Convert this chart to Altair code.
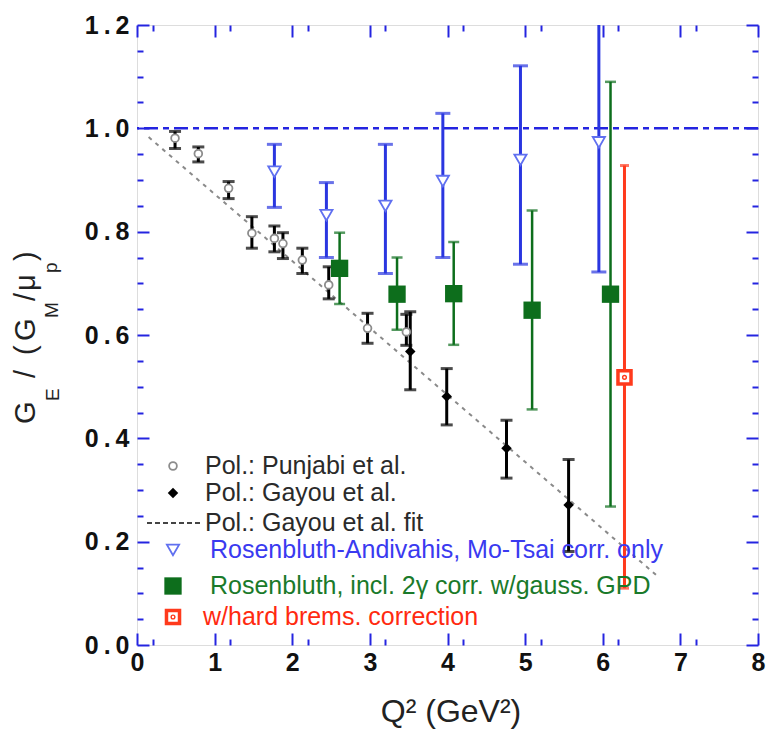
import altair as alt
import pandas as pd

# ---------------- data ----------------
punjabi_q2 = [0.49, 0.79, 1.18, 1.48, 1.77, 1.88, 2.13, 2.47, 2.97, 3.47]
punjabi_r = [0.981, 0.951, 0.884, 0.797, 0.787, 0.777, 0.745, 0.697, 0.613, 0.606]
punjabi_lo = [0.961, 0.935, 0.864, 0.768, 0.761, 0.748, 0.719, 0.670, 0.584, 0.580]
punjabi_hi = [0.994, 0.964, 0.897, 0.829, 0.811, 0.798, 0.768, 0.732, 0.642, 0.640]

gayou_q2 = [3.52, 3.99, 4.76, 5.56]
gayou_r = [0.568, 0.481, 0.381, 0.271]
gayou_lo = [0.494, 0.426, 0.323, 0.181]
gayou_hi = [0.645, 0.535, 0.435, 0.359]

fit_q2 = [0.15, 6.70]
fit_r = [0.983, 0.134]

ros_q2 = [1.77, 2.44, 3.20, 3.94, 4.94, 5.95]
ros_r = [0.916, 0.832, 0.850, 0.898, 0.939, 0.973]
ros_lo = [0.847, 0.750, 0.719, 0.750, 0.737, 0.722]
ros_hi = [0.969, 0.895, 0.969, 1.029, 1.121, 1.260]

tpe_q2 = [2.61, 3.35, 4.08, 5.09, 6.10]
tpe_r = [0.729, 0.679, 0.680, 0.648, 0.679]
tpe_lo = [0.660, 0.610, 0.581, 0.456, 0.268]
tpe_hi = [0.798, 0.750, 0.780, 0.841, 1.090]

brem_q2 = [6.28]
brem_r = [0.518]
brem_lo = [0.110]
brem_hi = [0.928]

unity = [1.0]

x_major = [0, 1, 2, 3, 4, 5, 6, 7, 8]
x_minor = [round(i * 0.2, 2) for i in range(41) if i % 5 != 0]
y_major = [0.0, 0.2, 0.4, 0.6, 0.8, 1.0, 1.2]
y_minor = [round(i * 0.05, 2) for i in range(25) if i % 4 != 0]

legend_labels = [
    "Pol.: Punjabi et al.",
    "Pol.: Gayou et al.",
    "Pol.: Gayou et al. fit",
    "Rosenbluth-Andivahis, Mo-Tsai corr. only",
    "Rosenbluth, incl. 2\u03b3 corr. w/gauss. GPD",
    "w/hard brems. correction",
]

# ---------------- styles ----------------
BLUE_AX = "#2424e0"
BLUE = "#2a36e0"
GREEN = "#0d6e1c"
RED = "#ff3a1c"
FONT = "Liberation Sans"

W, H = 621, 620
xs = alt.Scale(domain=[0, 8], nice=False, zero=False)
ys = alt.Scale(domain=[0, 1.2], nice=False, zero=False)


def frame(q, r, lo=None, hi=None):
    d = {"q": q, "r": r}
    if lo is not None:
        d["lo"] = lo
        d["hi"] = hi
    return pd.DataFrame(d)


def errbars(df, color, width, cap):
    bar = alt.Chart(df).mark_rule(color=color, strokeWidth=width, clip=True).encode(
        x=alt.X("q:Q", scale=xs, axis=None),
        y=alt.Y("lo:Q", scale=ys, axis=None),
        y2="hi:Q",
    )
    lo = alt.Chart(df).mark_tick(color=color, orient="horizontal", size=cap,
                                 thickness=width, clip=True).encode(
        x=alt.X("q:Q", scale=xs, axis=None), y=alt.Y("lo:Q", scale=ys, axis=None))
    hi = alt.Chart(df).mark_tick(color=color, orient="horizontal", size=cap,
                                 thickness=width, clip=True).encode(
        x=alt.X("q:Q", scale=xs, axis=None), y=alt.Y("hi:Q", scale=ys, axis=None))
    return [bar, lo, hi]


def points(df, **kw):
    return alt.Chart(df).mark_point(**kw).encode(
        x=alt.X("q:Q", scale=xs, axis=None), y=alt.Y("r:Q", scale=ys, axis=None))


def axis_layer(vals, channel, orient, size, labels):
    df = pd.DataFrame({"v": vals})
    kw = dict(
        orient=orient, values=vals, tickSize=size, offset=-size, domain=False,
        labels=labels, grid=False, ticks=True, tickColor=BLUE_AX, tickWidth=2,
        title=None, labelFont=FONT, labelFontSize=25, labelFontWeight="bold",
        labelColor="#111111", labelFlush=False, labelOverlap=False,
        labelPadding=(8 if channel == "y" else 5),
        format=(".1f" if channel == "y" else "d"),
    )
    if channel == "y":
        kw["labelExpr"] = "replace(datum.label, '.', '\u2009.\u2009')"
    ax = alt.Axis(**kw)
    if channel == "x":
        enc = {"x": alt.X("v:Q", scale=xs, axis=ax)}
    else:
        enc = {"y": alt.Y("v:Q", scale=ys, axis=ax)}
    return alt.Chart(df).mark_point(opacity=0).encode(**enc)


one = pd.DataFrame({"k": [0]})


def txt(s, x, y, size, color="#222222", angle=0, align="left", baseline="middle", weight="normal"):
    return alt.Chart(pd.DataFrame({"t": [s]})).mark_text(
        font=FONT, fontSize=size, color=color, angle=angle, align=align,
        baseline=baseline, fontWeight=weight).encode(
        x=alt.value(x), y=alt.value(y), text="t:N")


def sym(x, y, **kw):
    return alt.Chart(one).mark_point(**kw).encode(x=alt.value(x), y=alt.value(y))


CIRC = dict(shape="circle", size=60, filled=True, fill="white", stroke="#8c8c8c",
            strokeWidth=1.8, opacity=1)
DIAM = dict(shape="diamond", size=110, filled=True, color="black", opacity=1)
TRI = dict(shape="triangle-down", size=150, filled=True, fill="white", stroke="#6070f0",
           strokeWidth=1.8, opacity=1)
SQ = dict(shape="square", size=300, filled=True, color=GREEN, opacity=1)
RSQ = dict(shape="square", size=170, filled=True, fill="white", stroke=RED,
           strokeWidth=3.5, opacity=1)
RDOT = dict(shape="circle", size=14, filled=False, stroke=RED, strokeWidth=1.4, opacity=1)

layers = []

# axes (ticks inward on all four sides)
layers += [
    axis_layer(x_major, "x", "bottom", 12, True),
    axis_layer(x_minor, "x", "bottom", 6, False),
    axis_layer(x_major, "x", "top", 12, False),
    axis_layer(x_minor, "x", "top", 6, False),
    axis_layer(y_major, "y", "left", 12, True),
    axis_layer(y_minor, "y", "left", 6, False),
    axis_layer(y_major, "y", "right", 12, False),
    axis_layer(y_minor, "y", "right", 6, False),
]

# unity line
layers.append(
    alt.Chart(pd.DataFrame({"u": unity})).mark_rule(
        color=BLUE_AX, strokeWidth=2.5, strokeDash=[14, 5, 6, 5]).encode(
        y=alt.Y("u:Q", scale=ys, axis=None))
)

# fit line
layers.append(
    alt.Chart(frame(fit_q2, fit_r)).mark_line(
        color="#8a8a8a", strokeWidth=2, strokeDash=[4, 5]).encode(
        x=alt.X("q:Q", scale=xs, axis=None), y=alt.Y("r:Q", scale=ys, axis=None))
)

pun = frame(punjabi_q2, punjabi_r, punjabi_lo, punjabi_hi)
gay = frame(gayou_q2, gayou_r, gayou_lo, gayou_hi)
ros = frame(ros_q2, ros_r, ros_lo, ros_hi)
tpe = frame(tpe_q2, tpe_r, tpe_lo, tpe_hi)
brm = frame(brem_q2, brem_r, brem_lo, brem_hi)

layers += errbars(ros, BLUE, 3, 15)
layers += errbars(tpe, GREEN, 2.5, 11)
layers += errbars(brm, RED, 3, 9)
layers += errbars(pun, "black", 3, 12)
layers += errbars(gay, "black", 3, 12)

layers.append(points(pun, **CIRC))
layers.append(points(gay, **DIAM))
layers.append(points(ros, **TRI))
layers.append(points(tpe, **SQ))
layers.append(points(brm, **RSQ))
layers.append(points(brm, **RDOT))

# legend
LX = 36
rows = [441, 468, 498, 525, 561, 592]
layers += [
    sym(LX, rows[0], **CIRC),
    sym(LX, rows[1], **DIAM),
    alt.Chart(one).mark_rule(color="#444444", strokeWidth=2, strokeDash=[5, 3]).encode(
        x=alt.value(10), x2=alt.value(66), y=alt.value(rows[2])),
    sym(LX, rows[3], **TRI),
    sym(LX, rows[4], **SQ),
    sym(LX, rows[5], **RSQ),
    sym(LX, rows[5], **RDOT),
]
legend_colors = ["#2a2a2a", "#2a2a2a", "#2a2a2a", "#3a3af0", "#1a7a2a", "#ff2a10"]
legend_x = [68, 68, 68, 73, 73, 66]
for lab, c, lx, ry in zip(legend_labels, legend_colors, legend_x, rows):
    layers.append(txt(lab, lx, ry, 25, color=c))

# x title
layers.append(txt("Q\u00b2 (GeV\u00b2)", 314, 697, 32, color="#222222",
                  align="center", baseline="alphabetic"))

# y title (rotated pieces with subscripts); (text, bottom y abs, baseline x abs, size)
YT = [
    ("G", 424, 35, 29), ("E", 401, 59, 19), ("/", 378, 35, 29), ("(", 355, 35, 29),
    ("G", 341, 35, 29), ("M", 318, 58, 19), ("/", 301, 35, 29), ("\u03bc", 291, 35, 29),
    ("p", 273, 57, 19), (")", 261, 35, 29),
]
for s, yabs, xabs, fs in YT:
    layers.append(txt(s, xabs - 137, yabs - 25, fs, color="#222222", angle=270,
                      align="left", baseline="alphabetic"))

chart = alt.layer(*layers).properties(
    width=W, height=H,
    autosize=alt.AutoSizeParams(type="none"),
    padding={"left": 137, "top": 25, "right": 9, "bottom": 95},
).resolve_axis(x="independent", y="independent").configure_view(
    stroke=BLUE_AX, strokeWidth=3).configure(background="white")

chart.save("out.html", embed_options={"renderer": "svg", "actions": False})
